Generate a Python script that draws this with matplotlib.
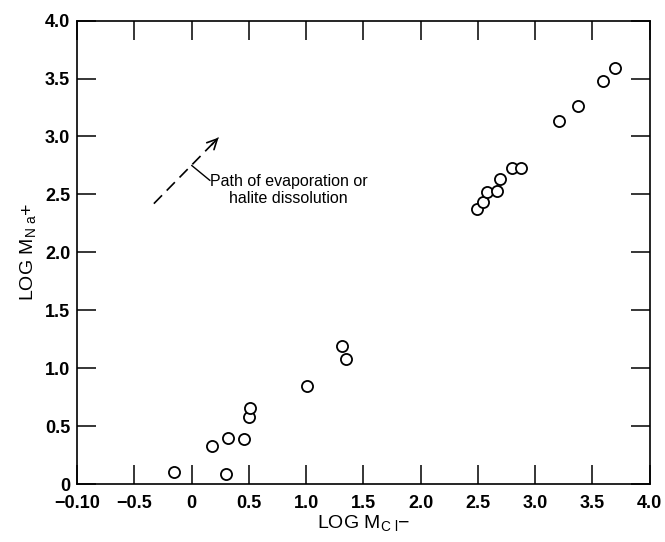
import matplotlib.pyplot as plt
import numpy as np

plt.rcParams['font.family'] = ['Liberation Sans', 'DejaVu Sans']
plt.rcParams['mathtext.fontset'] = 'custom'
plt.rcParams['mathtext.rm'] = 'Liberation Sans'

## data
log_cl = [-0.15, 0.30, 0.18, 0.32, 0.46, 0.50, 0.51, 1.01, 1.31, 1.35,
          2.49, 2.54, 2.58, 2.67, 2.69, 2.80, 2.88, 3.21, 3.37, 3.59, 3.70]
log_na = [0.10, 0.09, 0.33, 0.40, 0.39, 0.58, 0.66, 0.85, 1.19, 1.08,
          2.37, 2.43, 2.52, 2.53, 2.63, 2.73, 2.73, 3.13, 3.26, 3.48, 3.59]

x_ticks = [-1.0, -0.5, 0, 0.5, 1.0, 1.5, 2.0, 2.5, 3.0, 3.5, 4.0]
x_tick_labels = ['\u22120.10', '\u22120.5', '0', '0.5', '1.0', '1.5', '2.0',
                 '2.5', '3.0', '3.5', '4.0']
y_ticks = [0, 0.5, 1.0, 1.5, 2.0, 2.5, 3.0, 3.5, 4.0]
y_tick_labels = ['0', '0.5', '1.0', '1.5', '2.0', '2.5', '3.0', '3.5', '4.0']

arrow_start = (-0.33, 2.42)
arrow_end = (0.235, 2.99)
leader_start = (0.0, 2.75)
leader_end = (0.16, 2.62)
note_pos = (0.16, 2.54)
note = 'Path of evaporation or\nhalite dissolution'

fig = plt.figure(figsize=(6.65, 5.42), dpi=100)
ax = fig.add_axes([0.116, 0.107, 0.861, 0.855])

ax.plot(log_cl, log_na, ls='none', marker='o', ms=8, mfc='white',
        mec='black', mew=1.3)

# dashed path arrow
ax.plot([arrow_start[0], arrow_end[0]], [arrow_start[1], arrow_end[1]],
        color='black', lw=1.2, ls=(0, (7, 4)))
ax.annotate('', xy=arrow_end, xytext=(arrow_end[0] - 0.06, arrow_end[1] - 0.062),
            arrowprops=dict(arrowstyle='->', color='black', lw=1.2,
                            mutation_scale=18, shrinkA=0, shrinkB=0))
# leader to the note
ax.annotate('', xy=leader_start, xytext=leader_end,
            arrowprops=dict(arrowstyle='-', color='black', lw=1.0,
                            shrinkA=0, shrinkB=0))
ax.text(note_pos[0], note_pos[1], note, fontsize=11.5, ha='left', va='center',
        multialignment='center', linespacing=1.15)

ax.set_xlim(-1.0, 4.0)
ax.set_ylim(0, 4.0)
ax.set_xticks(x_ticks)
ax.set_xticklabels(x_tick_labels)
ax.set_yticks(y_ticks)
ax.set_yticklabels(y_tick_labels)
ax.tick_params(direction='in', length=14, width=1.1, top=True, right=True,
               labelsize=13)
ax.tick_params(axis='x', pad=8)
ax.tick_params(axis='y', pad=5)
for lab in ax.get_xticklabels() + ax.get_yticklabels():
    lab.set_fontweight('bold')
for s in ax.spines.values():
    s.set_linewidth(1.2)

ax.set_xlabel(r'LOG M$_{\mathrm{C\ l}}$' + '\u2212', fontsize=14, labelpad=1)
ax.set_ylabel(r'LOG M$_{\mathrm{N\ a}}$+', fontsize=14, labelpad=4)

fig.savefig('out.png', dpi=100)
